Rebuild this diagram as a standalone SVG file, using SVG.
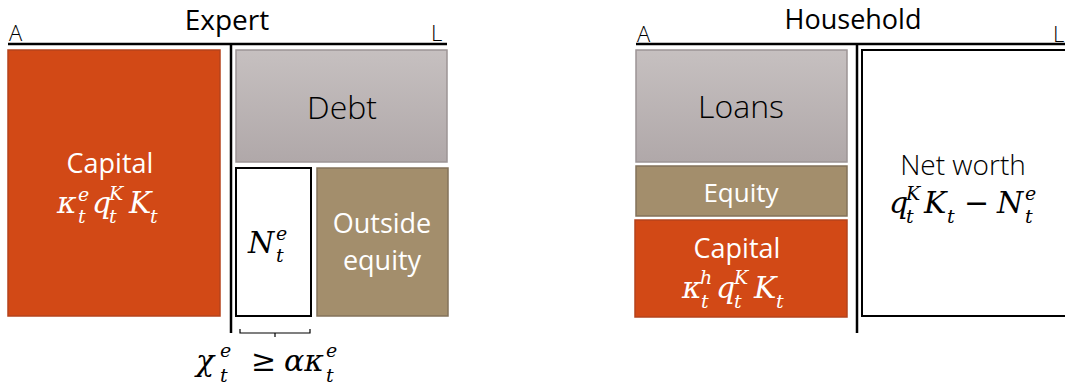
<svg xmlns="http://www.w3.org/2000/svg" width="1065" height="387" viewBox="0 0 1065 387">
<defs>
<linearGradient id="gDebt" x1="0" y1="0" x2="0" y2="1">
<stop offset="0" stop-color="#C6C0C0"/>
<stop offset="1" stop-color="#B0A8A9"/>
</linearGradient>
</defs>
<style>
.t{font-family:"Open Sans","Noto Sans","Liberation Sans",sans-serif;font-weight:300;}
.tw{font-family:"Open Sans","Noto Sans","Liberation Sans",sans-serif;font-weight:400;}
.m{font-family:"DejaVu Serif","Liberation Serif",serif;font-style:italic;}
.cap{fill:#D24916;stroke:#B5431C;stroke-width:1.5;}
.gray{fill:url(#gDebt);stroke:#9C9495;stroke-width:1.5;}
.eq{fill:#A38E6C;stroke:#83725A;stroke-width:1.5;}
.wb{fill:#FFFFFF;stroke:#000;stroke-width:2;}
.ax{stroke:#000;stroke-width:2.5;fill:none;}
.w{fill:#FFFFFF;}
.k{fill:#000;}
</style>

<g id="connectors">
<line class="ax" x1="8" y1="44" x2="447" y2="44"/>
<line class="ax" x1="231" y1="44" x2="231" y2="333"/>
<line class="ax" x1="636" y1="44" x2="1065" y2="44"/>
<line class="ax" x1="857" y1="44" x2="857" y2="333"/>
<path d="M240 329 V333 H310 V329 M275 333 V337" stroke="#000" stroke-width="1.2" fill="none"/>
</g>

<g id="expert-labels">
<text class="t k" x="227" y="30" font-size="28" text-anchor="middle" style="font-weight:400">Expert</text>
<text class="t k" x="9" y="41" font-size="22">A</text>
<text class="t k" x="431" y="41" font-size="22">L</text>
</g>

<g id="expert-capital">
<rect class="cap" x="8" y="50" width="212" height="266"/>
<text class="tw w" x="110" y="173" font-size="27" text-anchor="middle">Capital</text>
<text class="m w" font-size="30"><tspan x="57" y="213">κ</tspan><tspan x="92" y="213">q</tspan><tspan x="129" y="213">K</tspan></text>
<text class="m w" font-size="19"><tspan x="78" y="201">e</tspan><tspan x="78" y="223">t</tspan><tspan x="109" y="200">K</tspan><tspan x="109" y="223">t</tspan><tspan x="150" y="223">t</tspan></text>
</g>

<g id="expert-debt">
<rect class="gray" x="236" y="50" width="211" height="112"/>
<text class="t k" x="342" y="119" font-size="32" text-anchor="middle">Debt</text>
</g>

<g id="expert-networth">
<rect class="wb" x="236" y="168" width="75" height="148"/>
<text class="m k" x="248" y="253" font-size="30">N</text>
<text class="m k" font-size="19"><tspan x="276" y="240">e</tspan><tspan x="276" y="262">t</tspan></text>
</g>

<g id="expert-outside-equity">
<rect class="eq" x="317" y="168" width="131" height="148"/>
<text class="tw w" x="382" y="233" font-size="27" text-anchor="middle">Outside</text>
<text class="tw w" x="382" y="270" font-size="27" text-anchor="middle">equity</text>
</g>

<g id="constraint">
<text class="m k" x="196" y="371" font-size="30">χ</text>
<text class="m k" font-size="19"><tspan x="220" y="357">e</tspan><tspan x="220" y="382">t</tspan></text>
<text class="m k" x="251" y="371" font-size="30" font-style="normal">≥</text>
<text class="m k" font-size="30"><tspan x="284" y="371">ακ</tspan></text>
<text class="m k" font-size="19"><tspan x="326" y="357">e</tspan><tspan x="326" y="382">t</tspan></text>
</g>

<g id="household-labels">
<text class="t k" x="853" y="29" font-size="27" text-anchor="middle" style="font-weight:400">Household</text>
<text class="t k" x="637" y="42" font-size="22">A</text>
<text class="t k" x="1053" y="42" font-size="22">L</text>
</g>

<g id="household-loans">
<rect class="gray" x="636" y="50" width="211" height="112"/>
<text class="t k" x="741" y="118" font-size="32" text-anchor="middle">Loans</text>
</g>

<g id="household-equity">
<rect class="eq" x="636" y="166" width="211" height="50"/>
<text class="tw w" x="741" y="202" font-size="26" text-anchor="middle">Equity</text>
</g>

<g id="household-capital">
<rect class="cap" x="635" y="220" width="212" height="97"/>
<text class="tw w" x="737" y="258" font-size="27" text-anchor="middle">Capital</text>
<text class="m w" font-size="30"><tspan x="682" y="298">κ</tspan><tspan x="716" y="298">q</tspan><tspan x="754" y="298">K</tspan></text>
<text class="m w" font-size="19"><tspan x="700" y="284">h</tspan><tspan x="701" y="308">t</tspan><tspan x="734" y="284">K</tspan><tspan x="734" y="308">t</tspan><tspan x="776" y="308">t</tspan></text>
</g>

<g id="household-networth">
<rect class="wb" x="862" y="50" width="210" height="266"/>
<text class="t k" x="963" y="175" font-size="28" text-anchor="middle">Net worth</text>
<text class="m k" font-size="30"><tspan x="889" y="213">q</tspan><tspan x="924" y="213">K</tspan></text>
<text class="m k" font-size="19"><tspan x="906" y="200">K</tspan><tspan x="906" y="223">t</tspan><tspan x="947" y="223">t</tspan></text>
<text class="m k" x="964" y="213" font-size="30" font-style="normal">−</text>
<text class="m k" x="997" y="213" font-size="30">N</text>
<text class="m k" font-size="19"><tspan x="1025" y="200">e</tspan><tspan x="1025" y="223">t</tspan></text>
</g>
</svg>
